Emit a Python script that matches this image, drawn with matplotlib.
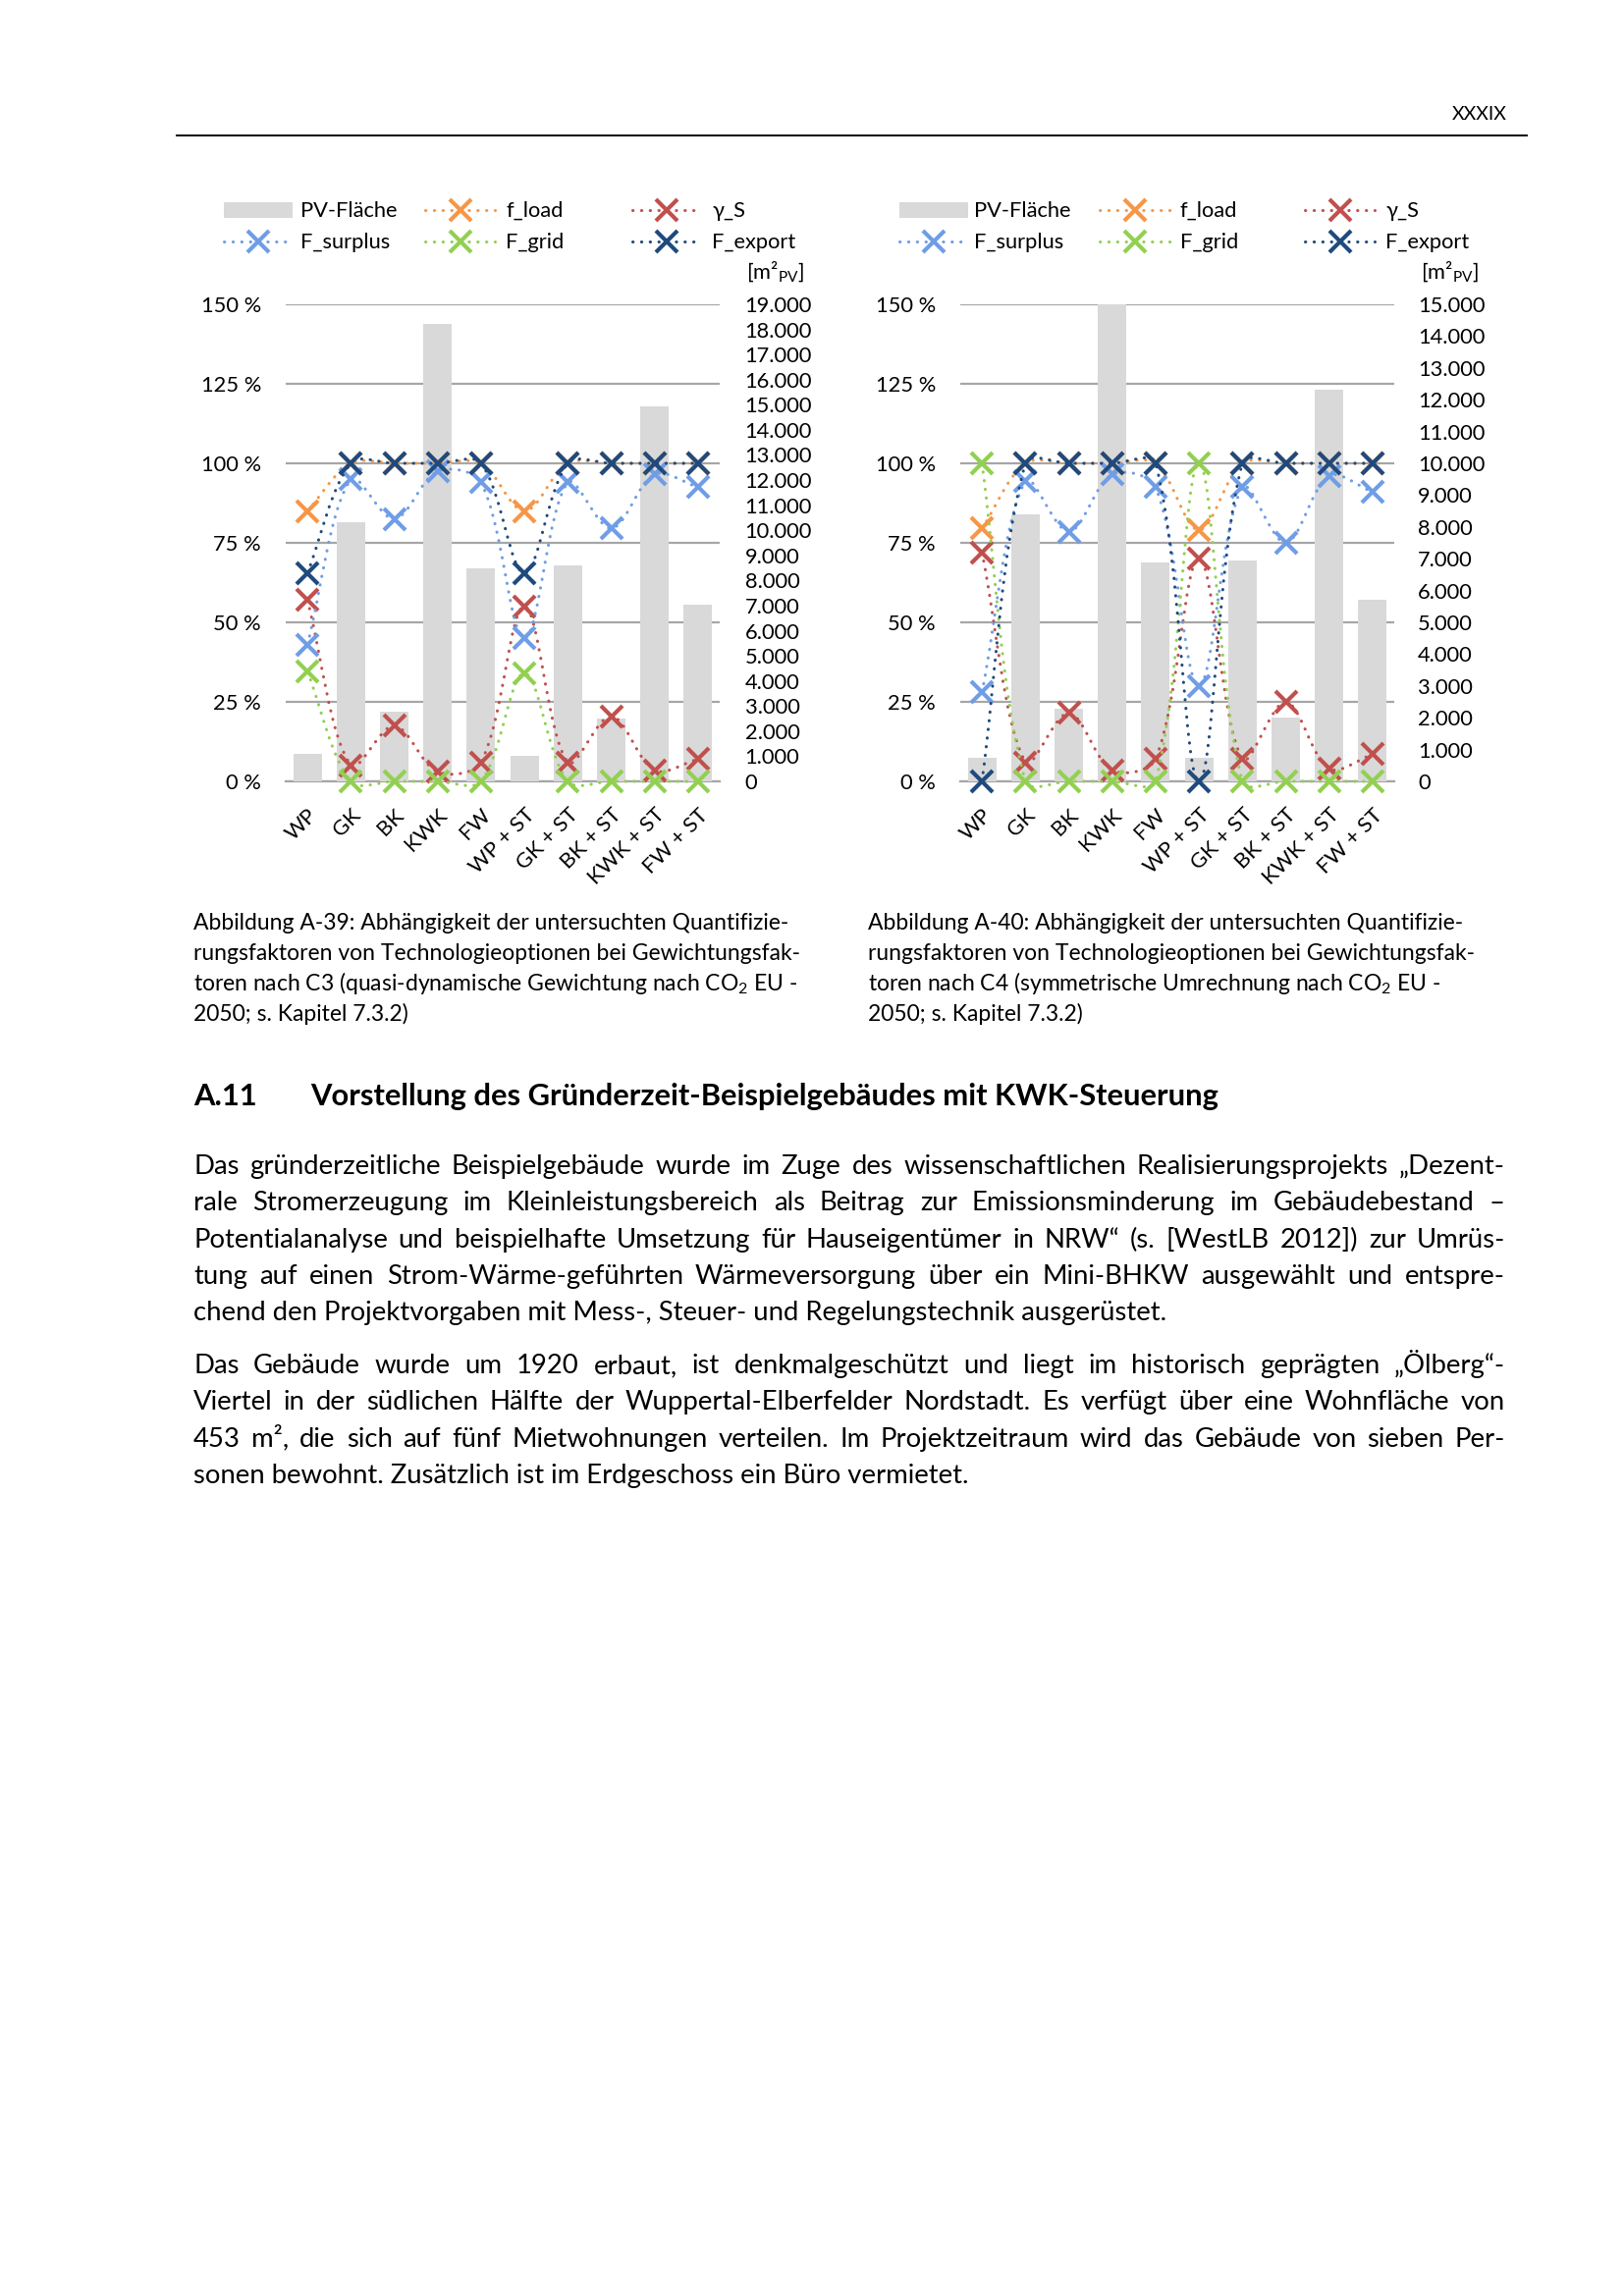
import numpy as np
import matplotlib
matplotlib.use("Agg")
import matplotlib.pyplot as plt
from matplotlib.path import Path
from matplotlib.patches import PathPatch, Rectangle
from matplotlib.lines import Line2D
from matplotlib.transforms import offset_copy

plt.rcParams['font.family'] = ['Lato', 'DejaVu Sans']
plt.rcParams['mathtext.fontset'] = 'custom'
plt.rcParams['mathtext.rm'] = 'Lato'
plt.rcParams['mathtext.it'] = 'Lato:italic'
plt.rcParams['mathtext.bf'] = 'Lato:bold'

# ---------------- data ----------------
categories = ['WP', 'GK', 'BK', 'KWK', 'FW', 'WP + ST', 'GK + ST', 'BK + ST', 'KWK + ST', 'FW + ST']

# Chart A-39 (C3)
pv_c3 = [1080, 10330, 2780, 18200, 8470, 1010, 8620, 2500, 14950, 7020]
f_load_c3 = [85, 100, 100, 100, 100, 85, 100, 100, 100, 100]
gamma_c3 = [57, 5, 17.5, 3, 6, 55, 6, 20.5, 3.5, 7]
surplus_c3 = [43, 95, 82.5, 97.5, 94, 45, 94, 79.5, 96.5, 92.5]
grid_c3 = [34.5, 0, 0, 0, 0, 34, 0, 0, 0, 0]
export_c3 = [65.5, 100, 100, 100, 100, 65.5, 100, 100, 100, 100]

# Chart A-40 (C4)
pv_c4 = [740, 8410, 2290, 15000, 6875, 740, 6930, 2020, 12320, 5700]
f_load_c4 = [79.5, 100, 100, 100, 100, 79, 100, 100, 100, 100]
gamma_c4 = [72, 6, 21.5, 3.5, 7, 70, 7, 25, 4, 8.5]
surplus_c4 = [28, 94.5, 78.5, 96.5, 92.5, 30, 92.5, 75, 96, 91]
grid_c4 = [100, 0, 0, 0, 0, 100, 0, 0, 0, 0]
export_c4 = [0, 100, 100, 100, 100, 0, 100, 100, 100, 100]

pct_ticks = [0, 25, 50, 75, 100, 125, 150]
series_names = ['f_load', 'γ_S', 'F_surplus', 'F_grid', 'F_export']
series_colors = ['#F79646', '#C0504D', '#6F9DE6', '#92D050', '#1F4A7D']
bar_color = '#D9D9D9'
grid_color = '#A6A6A6'

W, H = 1654, 2339
fig = plt.figure(figsize=(W / 200, H / 200), dpi=200)


def fx(x):
    return x / W


def fy(y):
    return 1 - y / H


TICK_FS = 7.9
DOT = (0, (0.1, 2.8))
MS, MEW = 7.8, 1.5


def smooth_path(ax, xs, ys, t=1.0 / 3.0):
    """Excel-like smoothed line: Bezier segments whose control arms are
    proportional to the adjacent segment lengths (computed in screen space)."""
    pd = ax.transData.transform(np.column_stack([xs, ys]).astype(float))
    n = len(pd)
    cin, cout = [None] * n, [None] * n
    for i in range(n):
        p1 = pd[i]
        p0 = pd[i - 1] if i > 0 else p1
        p2 = pd[i + 1] if i < n - 1 else p1
        d01 = np.hypot(*(p1 - p0))
        d12 = np.hypot(*(p2 - p1))
        den = d01 + d12
        T = (p2 - p0) / den if den > 0 else np.zeros(2)
        cout[i] = p1 + T * d12 * t
        cin[i] = p1 - T * d01 * t
    verts = [pd[0]]
    codes = [Path.MOVETO]
    for i in range(n - 1):
        verts += [cout[i], cin[i + 1], pd[i + 1]]
        codes += [Path.CURVE4] * 3
    verts = ax.transData.inverted().transform(np.array(verts))
    return Path(verts, codes)


def thousands(v):
    return f"{int(v):,}".replace(",", ".")


def draw_chart(left, right, top, bottom, pv, series, pv_max, label_pad_r):
    ax_g = fig.add_axes([fx(left), fy(bottom), (right - left) / W, (bottom - top) / H])
    ax_b = ax_g.twinx()
    ax_l = ax_g.twinx()
    x = np.arange(len(categories))
    for a in (ax_g, ax_b, ax_l):
        a.set_xlim(-0.5, len(categories) - 0.5)
        for s in a.spines.values():
            s.set_visible(False)
        a.patch.set_visible(False)
    # grid axis (percent)
    ax_g.set_ylim(0, 150)
    ax_g.set_yticks(pct_ticks)
    ax_g.set_yticklabels([f"{t} %" for t in pct_ticks], fontsize=TICK_FS)
    ax_g.tick_params(axis='y', length=0, pad=9.0)
    ax_g.yaxis.grid(True, color=grid_color, linewidth=0.8)
    ax_g.set_axisbelow(True)
    ax_g.spines['bottom'].set_visible(True)
    ax_g.spines['bottom'].set_color(grid_color)
    ax_g.spines['bottom'].set_linewidth(0.8)
    ax_g.set_xticks(np.arange(-0.5, len(categories), 1.0))
    ax_g.set_xticklabels([])
    ax_g.tick_params(axis='x', direction='out', length=2.9, width=0.8, color=grid_color)
    # bar axis
    ax_b.set_ylim(0, pv_max)
    rt = np.arange(0, pv_max + 1, 1000)
    ax_b.set_yticks(rt)
    ax_b.set_yticklabels([thousands(v) for v in rt], fontsize=TICK_FS)
    ax_b.tick_params(axis='y', length=0, pad=label_pad_r)
    ax_b.set_xticks([])
    ax_b.bar(x, pv, width=0.66, color=bar_color, zorder=1)
    # line axis
    ax_l.set_ylim(0, 150)
    ax_l.set_yticks([])
    ax_l.set_xticks([])
    for k, (vals, col) in enumerate(zip(series, series_colors)):
        patch = PathPatch(smooth_path(ax_l, x, vals), fill=False, edgecolor=col, linewidth=1.1,
                          linestyle=DOT, capstyle='round', transform=ax_l.transData,
                          clip_on=False, zorder=3 + 2 * k)
        ax_l.add_patch(patch)
        ax_l.plot(x, vals, linestyle='none', marker='x', markersize=MS, markeredgewidth=MEW,
                  color=col, clip_on=False, zorder=4 + 2 * k)
    # category labels
    tr = offset_copy(ax_l.transData, fig=fig, x=7, y=-31, units='dots')
    for i, c in enumerate(categories):
        ax_l.text(i, 0, c, transform=tr, rotation=45, rotation_mode='anchor',
                  ha='right', va='center', fontsize=TICK_FS)
    return ax_g


def legend(cols_line, cols_text, row_y):
    # row 1: PV-Fläche, f_load, γ_S ; row 2: F_surplus, F_grid, F_export
    layout = [('bar', 'PV-Fläche', None, 0, 0), ('line', series_names[0], series_colors[0], 1, 0),
              ('line', series_names[1], series_colors[1], 2, 0), ('line', series_names[2], series_colors[2], 0, 1),
              ('line', series_names[3], series_colors[3], 1, 1), ('line', series_names[4], series_colors[4], 2, 1)]
    for kind, name, col, ci, ri in layout:
        x1, x2 = cols_line[ci]
        y = row_y[ri]
        if kind == 'bar':
            fig.add_artist(Rectangle((fx(x1), fy(y + 8)), (x2 - x1) / W, 16 / H,
                                     transform=fig.transFigure, facecolor=bar_color, edgecolor='none'))
        else:
            fig.add_artist(Line2D([fx(x1), fx(x2)], [fy(y), fy(y)], transform=fig.transFigure,
                                  color=col, linewidth=1.1, linestyle=DOT, dash_capstyle='round'))
            fig.add_artist(Line2D([fx((x1 + x2) / 2)], [fy(y)], transform=fig.transFigure,
                                  color=col, marker='x', markersize=MS, markeredgewidth=MEW,
                                  linestyle='none'))
        fig.text(fx(cols_text[ci]), fy(y + 7), name, fontsize=TICK_FS, ha='left', va='baseline')


# ---------------- chart 1 ----------------
draw_chart(291, 733, 310, 796, pv_c3,
           [f_load_c3, gamma_c3, surplus_c3, grid_c3, export_c3], 19000, 9.2)
legend([(228, 298), (433, 504), (644, 713)], [306, 515, 725], [214, 246])
fig.text(fx(760), fy(284), r'[m²$_\mathrm{PV}$]', fontsize=TICK_FS, ha='left', va='baseline')

# ---------------- chart 2 ----------------
draw_chart(978, 1420, 310, 796, pv_c4,
           [f_load_c4, gamma_c4, surplus_c4, grid_c4, export_c4], 15000, 8.6)
legend([(916, 986), (1120, 1192), (1329, 1400)], [992, 1202, 1411], [214, 246])
fig.text(fx(1447), fy(284), r'[m²$_\mathrm{PV}$]', fontsize=TICK_FS, ha='left', va='baseline')

# ---------------- header ----------------
fig.text(fx(1535), fy(122), 'XXXIX', fontsize=7.0, ha='right', va='baseline')
fig.add_artist(Line2D([fx(180), fx(1555)], [fy(138), fy(138)], transform=fig.transFigure,
                      color='black', linewidth=0.7))

# ---------------- captions ----------------
cap_left = ["Abbildung A-39: Abhängigkeit der untersuchten Quantifizie-",
            "rungsfaktoren von Technologieoptionen bei Gewichtungsfak-",
            r"toren nach C3 (quasi-dynamische Gewichtung nach CO$_\mathrm{2}$ EU -",
            "2050; s. Kapitel 7.3.2)"]
cap_right = ["Abbildung A-40: Abhängigkeit der untersuchten Quantifizie-",
             "rungsfaktoren von Technologieoptionen bei Gewichtungsfak-",
             r"toren nach C4 (symmetrische Umrechnung nach CO$_\mathrm{2}$ EU -",
             "2050; s. Kapitel 7.3.2)"]
CAP_FS = 8.25
for i, (a, b) in enumerate(zip(cap_left, cap_right)):
    yb = 947 + 31 * i
    fig.text(fx(197), fy(yb), a, fontsize=CAP_FS, ha='left', va='baseline')
    fig.text(fx(884), fy(yb), b, fontsize=CAP_FS, ha='left', va='baseline')

# ---------------- heading ----------------
fig.text(fx(197), fy(1126), 'A.11', fontsize=11.1, fontweight='bold', ha='left', va='baseline')
fig.text(fx(316), fy(1126), 'Vorstellung des Gründerzeit-Beispielgebäudes mit KWK-Steuerung',
         fontsize=11.1, fontweight='bold', ha='left', va='baseline')

# ---------------- body text (justified) ----------------
para1 = ["Das gründerzeitliche Beispielgebäude wurde im Zuge des wissenschaftlichen Realisierungsprojekts „Dezent-",
         "rale Stromerzeugung im Kleinleistungsbereich als Beitrag zur Emissionsminderung im Gebäudebestand –",
         "Potentialanalyse und beispielhafte Umsetzung für Hauseigentümer in NRW“ (s. [WestLB 2012]) zur Umrüs-",
         "tung auf einen Strom-Wärme-geführten Wärmeversorgung über ein Mini-BHKW ausgewählt und entspre-",
         "chend den Projektvorgaben mit Mess-, Steuer- und Regelungstechnik ausgerüstet."]
para2 = ["Das Gebäude wurde um 1920 erbaut, ist denkmalgeschützt und liegt im historisch geprägten „Ölberg“-",
         "Viertel in der südlichen Hälfte der Wuppertal-Elberfelder Nordstadt. Es verfügt über eine Wohnfläche von",
         "453 m², die sich auf fünf Mietwohnungen verteilen. Im Projektzeitraum wird das Gebäude von sieben Per-",
         "sonen bewohnt. Zusätzlich ist im Erdgeschoss ein Büro vermietet."]

renderer = fig.canvas.get_renderer()


def tw(s, size):
    t = fig.text(0, 0, s, fontsize=size)
    w = t.get_window_extent(renderer).width
    t.remove()
    return w


X0, X1 = 197, 1533
BODY_FS = 9.9
ratio = max(tw(l, BODY_FS) for l in para1[:-1] + para2[:-1]) / (X1 - X0)
if ratio > 0.995:
    BODY_FS = BODY_FS * 0.993 / ratio


def draw_para(lines, y0):
    for i, line in enumerate(lines):
        yb = y0 + 37.3 * i
        if i == len(lines) - 1:
            fig.text(fx(X0), fy(yb), line, fontsize=BODY_FS, ha='left', va='baseline')
            continue
        words = line.split(' ')
        widths = [tw(w_, BODY_FS) for w_ in words]
        gap = (X1 - X0 - sum(widths)) / (len(words) - 1)
        xpos = X0
        for w_, wd in zip(words, widths):
            fig.text(fx(xpos), fy(yb), w_, fontsize=BODY_FS, ha='left', va='baseline')
            xpos += wd + gap


draw_para(para1, 1196)
draw_para(para2, 1399)

fig.savefig('out.png', dpi=200)
